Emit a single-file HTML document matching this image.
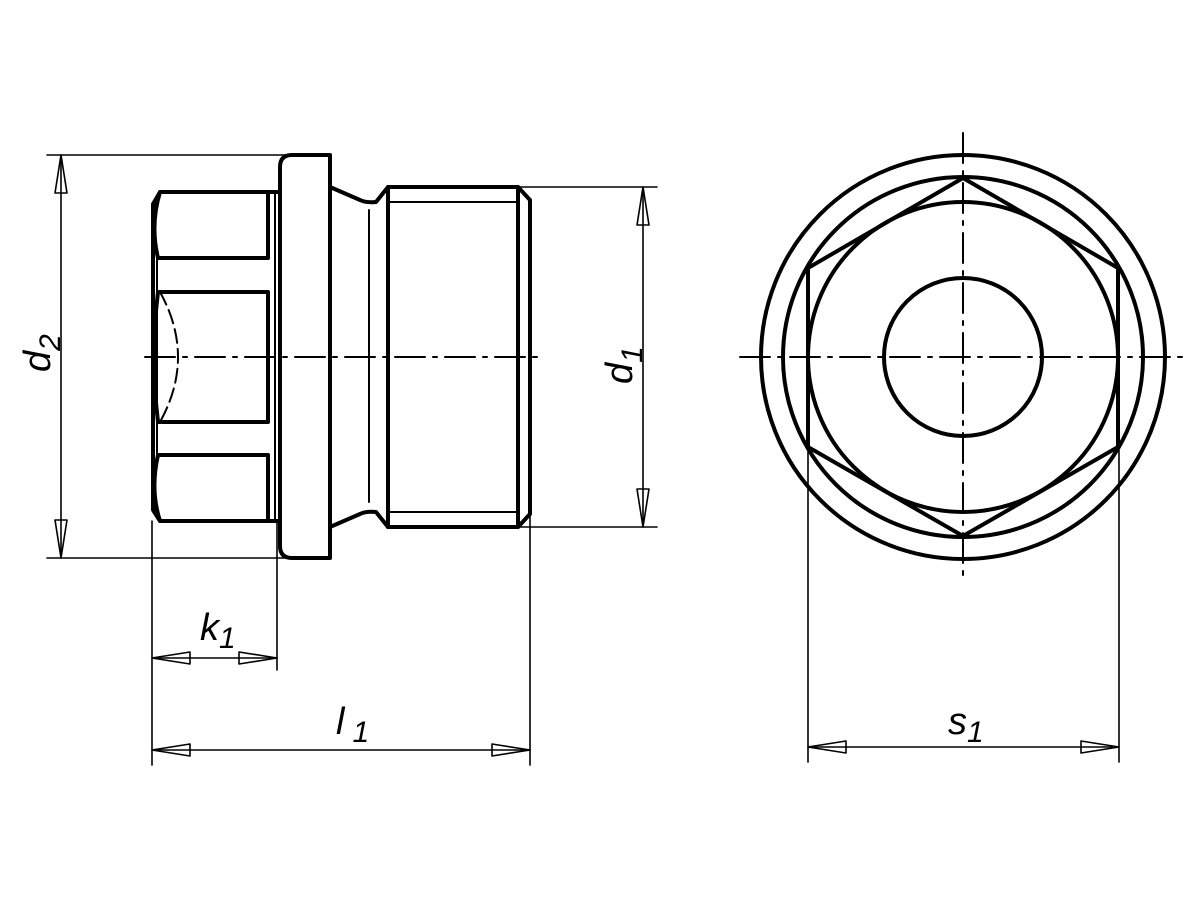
<!DOCTYPE html>
<html><head><meta charset="utf-8"><style>
html,body{margin:0;padding:0;background:#fff;}
svg{display:block}
text{font-family:"Liberation Sans",sans-serif;font-style:italic;fill:#000}
</style></head><body>
<svg width="1200" height="900" viewBox="0 0 1200 900" xmlns="http://www.w3.org/2000/svg">
<g fill="none" stroke="#000" stroke-linecap="round" stroke-linejoin="round">
<!-- centre lines -->
<g stroke-width="2" stroke-dasharray="30,8,4,8">
<line x1="145" y1="357" x2="545" y2="357"/>
<line x1="740" y1="357" x2="1190" y2="357"/>
<line x1="963" y1="133" x2="963" y2="580"/>
</g>
<!-- dimension / extension lines thin -->
<g stroke-width="1.6">
<line x1="47" y1="155" x2="285" y2="155"/>
<line x1="47" y1="558" x2="285" y2="558"/>
<line x1="61" y1="155" x2="61" y2="558"/>
<line x1="520" y1="187" x2="657" y2="187"/>
<line x1="520" y1="527" x2="657" y2="527"/>
<line x1="643" y1="187" x2="643" y2="527"/>
<line x1="152" y1="521" x2="152" y2="765"/>
<line x1="277" y1="521" x2="277" y2="670"/>
<line x1="530" y1="514" x2="530" y2="765"/>
<line x1="152" y1="658" x2="277" y2="658"/>
<line x1="152" y1="750" x2="530" y2="750"/>
<line x1="808" y1="450" x2="808" y2="762"/>
<line x1="1119" y1="450" x2="1119" y2="762"/>
<line x1="808" y1="747" x2="1119" y2="747"/>
<!-- arrowheads -->
<path d="M61 155 L55 193 L67 193 Z"/>
<path d="M61 558 L55 520 L67 520 Z"/>
<path d="M643 187 L637 225 L649 225 Z"/>
<path d="M643 527 L637 489 L649 489 Z"/>
<path d="M152 658 L190 652 L190 664 Z"/>
<path d="M277 658 L239 652 L239 664 Z"/>
<path d="M152 750 L190 744 L190 756 Z"/>
<path d="M530 750 L492 744 L492 756 Z"/>
<path d="M808 747 L846 741 L846 753 Z"/>
<path d="M1119 747 L1081 741 L1081 753 Z"/>
</g>
<!-- left view outlines -->
<g stroke-width="4">
<!-- flange -->
<path d="M330 155 L292 155 Q280 155 280 167 L280 546 Q280 558 292 558 L330 558 Z"/>
<!-- hex head -->
<path d="M280 192 L160 192 L153 204 L153 510 L160 521 L280 521"/>
<path d="M160 192 Q150 225 158 258"/>
<path d="M158 292 Q150 357 158 422"/>
<path d="M158 455 Q150 490 160 521"/>
<path d="M158 258 L268 258 L268 192"/>
<path d="M158 292 L268 292 L268 422 L158 422"/>
<path d="M158 455 L268 455 L268 521"/>
<!-- neck and thread -->
<path d="M330 187 L360 200 Q366 203 376 202 L388 187 L518 187 L530 200 L530 514 L518 527 L388 527 L376 512 Q366 511 360 514 L330 527"/>
<line x1="388" y1="187" x2="388" y2="527"/>
<line x1="518" y1="187" x2="518" y2="527"/>
</g>
<g stroke-width="2">
<line x1="388" y1="202" x2="518" y2="202"/>
<line x1="388" y1="512" x2="518" y2="512"/>
<line x1="369" y1="210" x2="369" y2="502"/>
<line x1="157" y1="258" x2="157" y2="455"/>
<line x1="275" y1="192" x2="275" y2="521"/>
<path d="M160 292 Q196 357 160 422" stroke-dasharray="14,6"/>
</g>
<!-- right view -->
<g stroke-width="4">
<circle cx="963" cy="357" r="202"/>
<circle cx="963" cy="357" r="180"/>
<circle cx="963" cy="357" r="155"/>
<circle cx="963" cy="357" r="79"/>
<path d="M963 178 L1118 268 L1118 447 L963 536 L808 447 L808 268 Z"/>
</g>
</g>
<!-- labels -->
<text transform="translate(50,372) rotate(-90)" font-size="38">d<tspan font-size="30" dy="10">2</tspan></text>
<text transform="translate(632,384) rotate(-90)" font-size="38">d<tspan font-size="30" dy="10">1</tspan></text>
<text x="200" y="640" font-size="38">k<tspan font-size="30" dy="8">1</tspan></text>
<text x="336" y="734" font-size="38">l<tspan font-size="30" dy="8" dx="8">1</tspan></text>
<text x="948" y="734" font-size="38">s<tspan font-size="30" dy="8">1</tspan></text>
</svg>
</body></html>
